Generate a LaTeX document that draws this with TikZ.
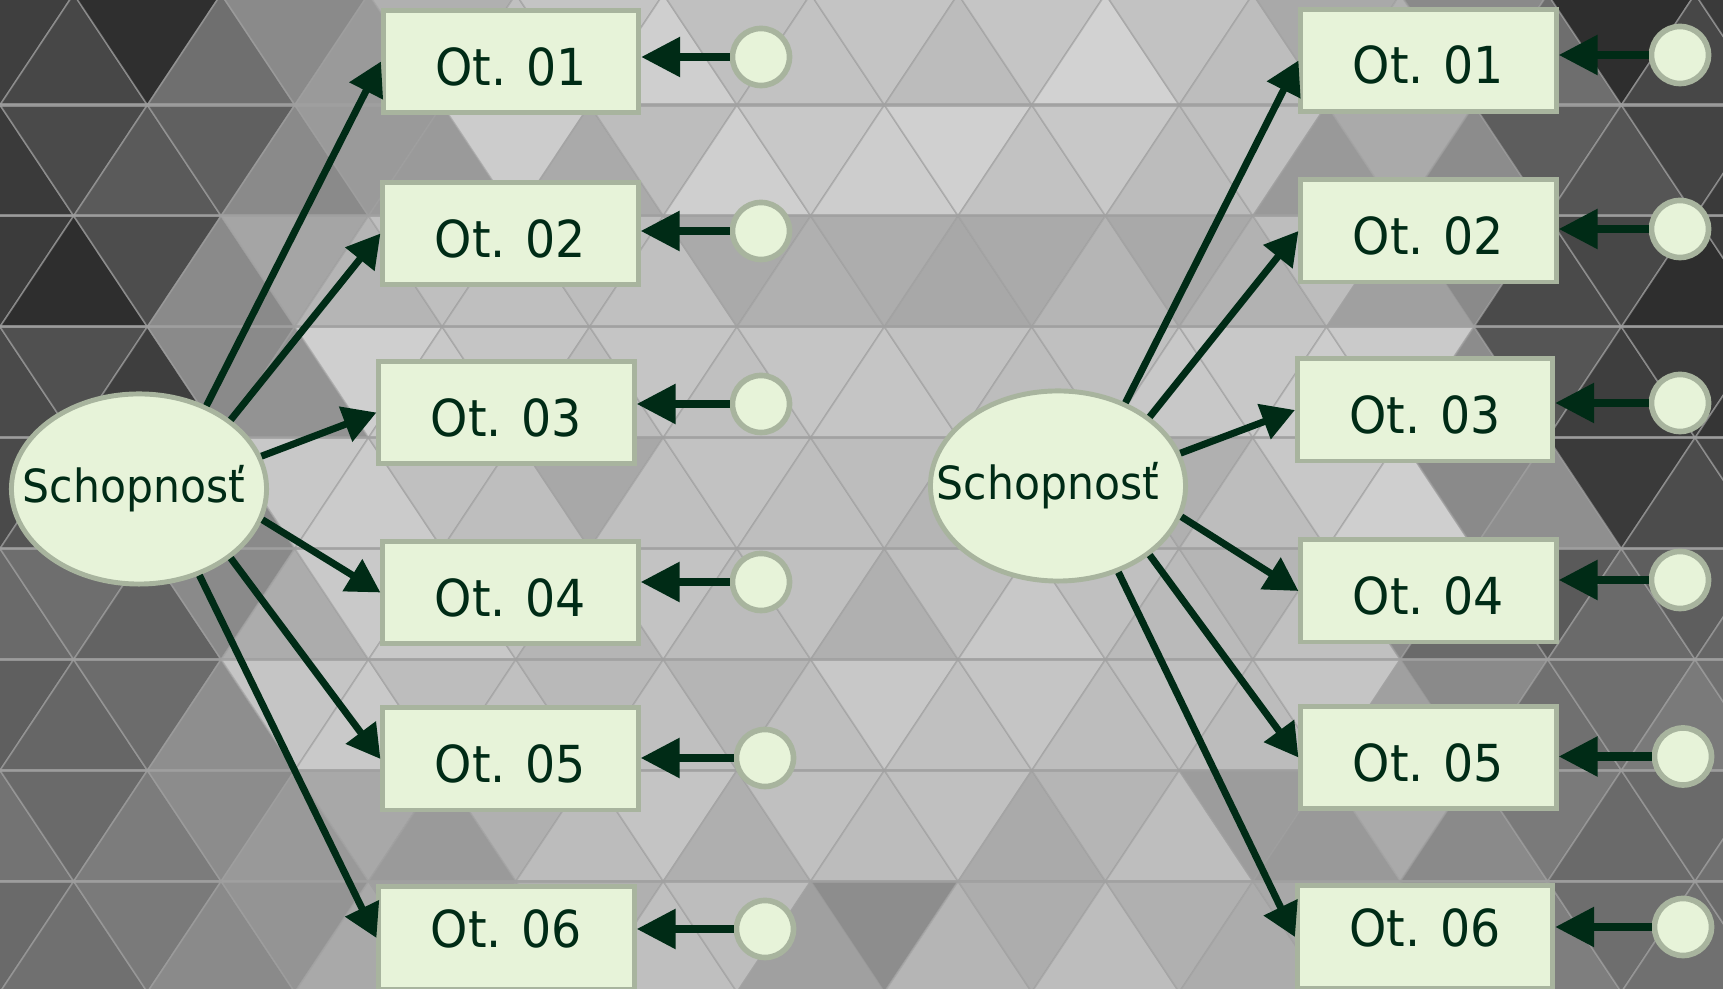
\documentclass[tikz,border=0pt]{standalone}
\usepackage{fontspec}
\setmainfont{DejaVu Sans}
\newfontfamily\narrowsans[FakeStretch=0.93]{DejaVu Sans}
\usetikzlibrary{arrows.meta,shapes.geometric}
\definecolor{leaf}{RGB}{231,243,217}
\definecolor{rim}{RGB}{168,180,158}
\definecolor{ink}{RGB}{0,43,22}
\definecolor{seamgray}{RGB}{160,160,160}
\tikzset{
  tile/.style={draw=seamgray, draw opacity=0.65, line width=0.45pt, line join=bevel},
  seam/.style={draw=seamgray, draw opacity=0.75, line width=0.9pt},
  item/.style={draw=rim, fill=leaf, line width=1.4pt, minimum width=2.55cm, minimum height=1.02cm,
    inner sep=0pt, text=ink, font=\narrowsans\fontsize{14.5}{17}\selectfont, text height=0.47cm, text depth=0pt},
  trait/.style={ellipse, draw=rim, fill=leaf, line width=1.4pt, minimum width=2.55cm,
    minimum height=1.9cm, inner sep=0pt},
  traitlbl/.style={text=ink, font=\narrowsans\fontsize{13}{15}\selectfont},
  err/.style={circle, draw=rim, fill=leaf, line width=1.6pt, minimum size=0.57cm, inner sep=0pt},
  load/.style={draw=ink, line width=0.07cm, -{Triangle[length=0.33cm,width=0.36cm]}},
  res/.style={draw=ink, line width=0.085cm, -{Triangle[length=0.39cm,width=0.38cm]}}
}

\begin{document}
\begin{tikzpicture}[x=0.01cm,y=-0.01cm]
  %%%%% BACKGROUND %%%%%
  \useasboundingbox (0,0) rectangle (1723,989);
  \clip (0,0) rectangle (1723,989);

  \foreach \row [count=\r from 0] in {
    {63,71,47,111,138,154,176,192,196,207,192,194,196,188,197,210,194,189,169,176,138,110,46,71,58},
    {58,74,90,96,138,154,154,204,170,189,207,200,205,208,194,200,188,192,153,170,140,93,85,67,58},
    {59,46,77,138,165,181,191,191,189,192,170,176,173,168,170,181,169,178,189,160,138,74,71,46,58},
    {74,80,62,138,147,207,200,197,189,197,192,197,197,194,189,192,200,200,204,202,140,85,62,58,53},
    {74,85,96,138,200,203,192,190,168,191,194,190,189,181,189,184,176,189,200,207,138,143,58,76,68},
    {106,110,99,138,172,201,200,192,181,195,188,192,176,191,200,192,186,181,192,138,106,90,106,94,102},
    {95,102,108,142,197,201,189,192,185,192,181,190,200,192,197,189,192,188,197,160,138,112,111,122,112},
    {115,106,124,140,153,168,154,176,188,196,175,192,188,192,170,181,190,156,153,170,138,122,106,106,112},
    {106,112,122,138,148,169,160,165,176,191,189,160,141,181,173,189,176,172,168,160,138,126,110,112,106}} {
    \foreach \g [count=\j from 0] in \row {
      \definecolor{shade}{RGB}{\g,\g,\g}
      \pgfmathsetmacro\cx{73.7*\j}
      \pgfmathsetmacro\yt{-5.9+110.9*\r}
      \pgfmathsetmacro\yb{\yt+110.9}
      \pgfmathtruncatemacro\up{mod(\j+\r,2)}
      \ifnum\up=1
        \draw[tile, fill=shade] ({\cx-73.7},\yb) -- ({\cx+73.7},\yb) -- (\cx,\yt) -- cycle;
      \else
        \draw[tile, fill=shade] ({\cx-73.7},\yt) -- ({\cx+73.7},\yt) -- (\cx,\yb) -- cycle;
      \fi
    }
  }
  \foreach \r in {1,...,8}
    \draw[seam] (0,{-5.9+110.9*\r}) -- (1723,{-5.9+110.9*\r});

  %%%%% LEFT MODEL %%%%%
  \node[trait, label={[traitlbl, xshift=-0.05cm]center:Schopnosť}] (lt) at (139, 489) {};

  \node[item] (lb1) at (511, 61.5) {Ot. 01};
  \node[item] (lb2) at (510.5, 233.5) {Ot. 02};
  \node[item] (lb3) at (506.5, 412.5) {Ot. 03};
  \node[item] (lb4) at (510.5, 592.5) {Ot. 04};
  \node[item] (lb5) at (510.5, 759) {Ot. 05};
  \node[item, text height=0.19cm] (lb6) at (506.5, 938) {Ot. 06};

  \node[err] (lc1) at (761, 57) {};
  \node[err] (lc2) at (761, 231) {};
  \node[err] (lc3) at (761, 404) {};
  \node[err] (lc4) at (761, 582) {};
  \node[err] (lc5) at (765, 758) {};
  \node[err] (lc6) at (765, 929) {};

  \draw[load] (lt.51) -- (lb1.west);
  \draw[load] (lt.37) -- (lb2.west);
  \draw[load] (lt.15) -- (lb3.west);
  \draw[load] (lt.-14) -- (lb4.west);
  \draw[load] (lt.-37) -- (lb5.west);
  \draw[load] (lt.-55) -- (lb6.west);

  \draw[res] (lc1.west) -- (lc1.west -| lb1.east);
  \draw[res] (lc2.west) -- (lc2.west -| lb2.east);
  \draw[res] (lc3.west) -- (lc3.west -| lb3.east);
  \draw[res] (lc4.west) -- (lc4.west -| lb4.east);
  \draw[res] (lc5.west) -- (lc5.west -| lb5.east);
  \draw[res] (lc6.west) -- (lc6.west -| lb6.east);

  %%%%% RIGHT MODEL %%%%%
  \node[trait, label={[traitlbl, xshift=-0.1cm]center:Schopnosť}] (rt) at (1058, 486) {};

  \node[item] (rb1) at (1428.5, 60.5) {Ot. 01};
  \node[item] (rb2) at (1428.5, 231) {Ot. 02};
  \node[item] (rb3) at (1425, 410) {Ot. 03};
  \node[item] (rb4) at (1428.5, 591) {Ot. 04};
  \node[item] (rb5) at (1428.5, 757.5) {Ot. 05};
  \node[item, text height=0.19cm] (rb6) at (1425, 937) {Ot. 06};

  \node[err] (rc1) at (1680, 55) {};
  \node[err] (rc2) at (1680, 229) {};
  \node[err] (rc3) at (1680, 403) {};
  \node[err] (rc4) at (1680, 580) {};
  \node[err] (rc5) at (1683, 756.5) {};
  \node[err] (rc6) at (1683, 927) {};

  \draw[load] (rt.51) -- (rb1.west);
  \draw[load] (rt.37) -- (rb2.west);
  \draw[load] (rt.15) -- (rb3.west);
  \draw[load] (rt.-14) -- (rb4.west);
  \draw[load] (rt.-37) -- (rb5.west);
  \draw[load] (rt.-55) -- (rb6.west);

  \draw[res] (rc1.west) -- (rc1.west -| rb1.east);
  \draw[res] (rc2.west) -- (rc2.west -| rb2.east);
  \draw[res] (rc3.west) -- (rc3.west -| rb3.east);
  \draw[res] (rc4.west) -- (rc4.west -| rb4.east);
  \draw[res] (rc5.west) -- (rc5.west -| rb5.east);
  \draw[res] (rc6.west) -- (rc6.west -| rb6.east);
\end{tikzpicture}
\end{document}
